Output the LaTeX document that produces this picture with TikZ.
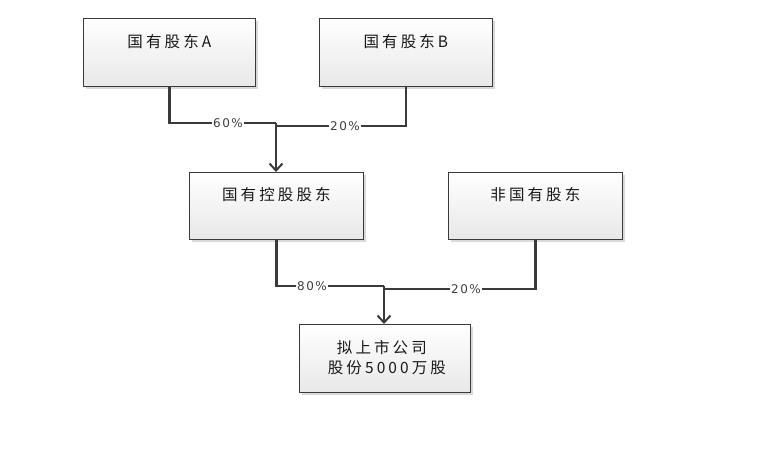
\documentclass[tikz,border=0pt]{standalone}
\usepackage{fontspec}
\newfontfamily\cjk[LetterSpace=20]{Noto Sans CJK SC}
\newfontfamily\lab[LetterSpace=12]{DejaVu Sans}
\usetikzlibrary{arrows.meta,calc}
\definecolor{edge}{HTML}{3A3A3A}
\tikzset{
  x=1pt,y=-1pt,
  box/.style={draw=edge,line width=0.8pt,minimum width=#1,minimum height=68pt,anchor=north west,
    top color=white,bottom color=black!9,inner sep=0pt},
  txt/.style={font=\cjk\fontsize{15.5}{19}\selectfont,text=black!90,align=center,inner sep=0pt},
  conn/.style={draw=edge,line width=2.4pt},
  arr/.style={conn,-{Straight Barb[length=7pt,width=13pt,line width=2pt]}},
  pct/.style={fill=white,font=\lab\fontsize{12}{14}\selectfont,text=black!75,inner sep=1pt}
}
\begin{document}
\begin{tikzpicture}
\useasboundingbox (0,0) rectangle (762,455);
% shadows
\fill[black!15] (86,21) rectangle (258,89);
\fill[black!15] (322,21) rectangle (495,89);
\fill[black!15] (192,175) rectangle (366,242);
\fill[black!15] (451,175) rectangle (625,242);
\fill[black!15] (302,327) rectangle (473,395);
% boxes
\node[box=172pt] (A) at (83,18) {};
\node[box=173pt] (B) at (319,18) {};
\node[box=174pt,minimum height=67pt] (C) at (189,172) {};
\node[box=174pt,minimum height=67pt] (D) at (448,172) {};
\node[box=171pt] (E) at (299,324) {};
% texts
\node[txt] (tA) at ($(A.north)+(0,24)$) {国有股东A};
\node[txt] (tB) at ($(B.north)+(0,24)$) {国有股东B};
\node[txt] (tC) at ($(C.north)+(0,23)$) {国有控股股东};
\node[txt] (tD) at ($(D.north)+(0,23)$) {非国有股东};
\node[txt] (tE1) at ($(E.north)+(-3,24)$) {拟上市公司};
\node[txt] (tE2) at ($(E.north)+(2,44)$) {股份5000万股};
% junctions
\coordinate (j1) at (276,123);
\coordinate (j2) at (276,126);
\coordinate (j3) at (384,286);
\coordinate (j4) at (384,289);
\draw[conn] (A.south) |- (j1);
\draw[conn] (B.south) |- (j2);
\draw[arr] (j1) -- (j1 |- C.north);
\draw[conn] (C.south) |- (j3);
\draw[conn] (D.south) |- (j4);
\draw[arr] (j3) -- (j3 |- E.north);
% labels
\node[pct] (p1) at (228,123) {60\%};
\node[pct] (p2) at (345,126) {20\%};
\node[pct] (p3) at (312,286) {80\%};
\node[pct] (p4) at (466,289) {20\%};
\end{tikzpicture}
\end{document}
